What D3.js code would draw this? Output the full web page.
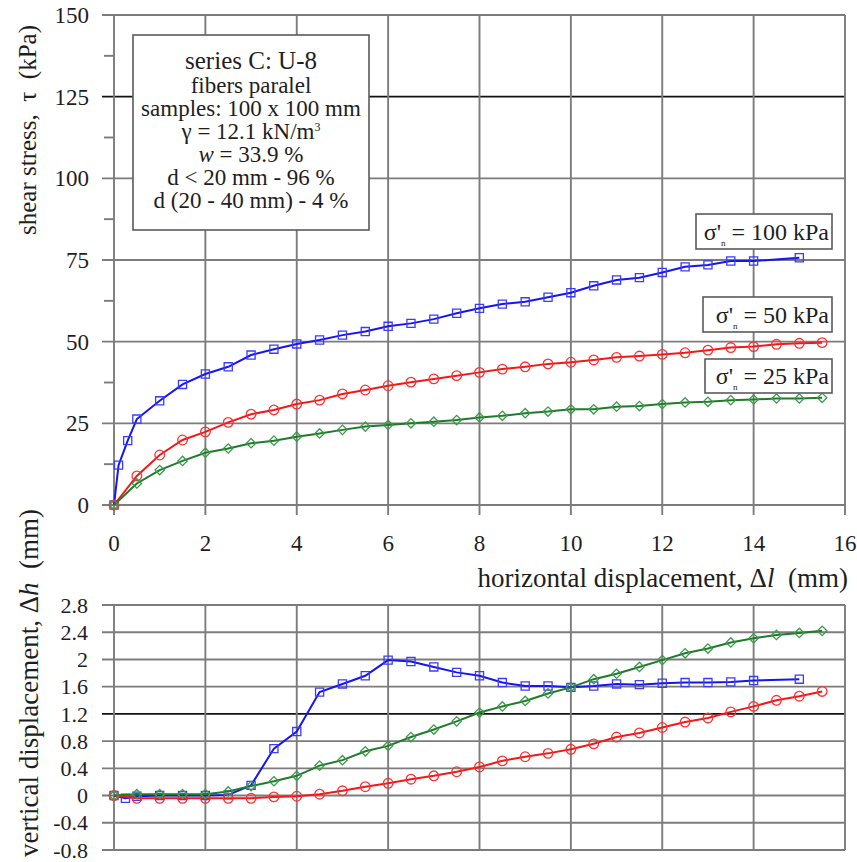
<!DOCTYPE html>
<head>
<meta charset="utf-8">
<script src="https://d3js.org/d3.v7.min.js"></script>
<style>
  body { margin: 0; background: #fff; }
  svg text { font-family: "Liberation Serif", "DejaVu Serif", serif; fill: #1e1e1e; }
  .grid { stroke: #7c7c7c; stroke-width: 1.9; }
  .grid-dark { stroke: #111; stroke-width: 1.8; }
  .box { fill: #fff; stroke: #5a5a5a; stroke-width: 1.6; }
</style>
</head>
<body>
<svg id="chart" width="857" height="862"></svg>
<script>
// x values (mm)
var xHalf = [0,0.5,1,1.5,2,2.5,3,3.5,4,4.5,5,5.5,6,6.5,7,7.5,8,8.5,9,9.5,10,10.5,11,11.5,12,12.5,13,13.5,14,14.5,15,15.5];
var xTauBlue = [0,0.1,0.3,0.5,1,1.5,2,2.5,3,3.5,4,4.5,5,5.5,6,6.5,7,7.5,8,8.5,9,9.5,10,10.5,11,11.5,12,12.5,13,13.5,14,15];
var xDhBlue = [0,0.25,0.5,1,1.5,2,2.5,3,3.5,4,4.5,5,5.5,6,6.5,7,7.5,8,8.5,9,9.5,10,10.5,11,11.5,12,12.5,13,13.5,14,15];

// shear stress (kPa)
var tauBlue  = [0,12.2,19.7,26.3,31.9,36.9,40.1,42.3,45.9,47.7,49.3,50.5,52.0,53.1,54.7,55.6,56.9,58.7,60.2,61.5,62.2,63.6,65.0,67.1,68.9,69.6,71.2,72.9,73.5,74.7,74.7,75.7];
var tauRed   = [0,8.9,15.3,19.9,22.4,25.3,27.8,29.1,30.9,32.1,34.0,35.2,36.5,37.6,38.6,39.6,40.6,41.6,42.3,43.2,43.7,44.4,45.2,45.6,46.1,46.6,47.4,48.2,48.5,49.2,49.5,49.7];
var tauGreen = [0,6.6,10.7,13.5,16.0,17.3,18.9,19.7,20.9,21.9,23.0,24.0,24.5,25.0,25.5,26.0,26.8,27.3,28.1,28.6,29.3,29.3,30.1,30.3,30.9,31.4,31.6,32.1,32.3,32.6,32.6,32.8];

// vertical displacement (mm)
var dhBlue  = [0,-0.04,-0.01,0,0,0,0.01,0.15,0.69,0.94,1.52,1.64,1.76,1.99,1.97,1.89,1.81,1.76,1.66,1.61,1.61,1.59,1.61,1.64,1.63,1.65,1.66,1.66,1.67,1.69,1.71];
var dhRed   = [0,-0.04,-0.04,-0.04,-0.04,-0.04,-0.04,-0.02,-0.01,0.02,0.07,0.13,0.18,0.24,0.29,0.35,0.42,0.51,0.57,0.62,0.68,0.76,0.86,0.92,1.00,1.08,1.14,1.23,1.31,1.40,1.46,1.53];
var dhGreen = [0,0.02,0.02,0.02,0.02,0.06,0.14,0.21,0.29,0.44,0.52,0.65,0.73,0.86,0.97,1.09,1.22,1.31,1.39,1.50,1.59,1.71,1.79,1.89,1.99,2.09,2.16,2.25,2.31,2.36,2.39,2.42];

var xTicks = [0,2,4,6,8,10,12,14,16];
var tauTicks = [0,25,50,75,100,125,150];
var tauMinor = [12.5,37.5,62.5,87.5,112.5,137.5];
var dhTicks = [-0.8,-0.4,0,0.4,0.8,1.2,1.6,2,2.4,2.8];

var svg = d3.select("#chart");

var x = d3.scaleLinear().domain([0, 16]).range([114, 845]);
var yTop = d3.scaleLinear().domain([0, 150]).range([505, 15]);
var yBot = d3.scaleLinear().domain([-0.8, 2.8]).range([850, 605]);

// ---- grid, top chart
var gTop = svg.append("g");
gTop.selectAll("line.h").data(tauTicks).enter().append("line")
    .attr("class", function(d) { return d == 125 ? "grid-dark" : "grid"; })
    .attr("x1", 102).attr("x2", x(16))
    .attr("y1", function(d) { return yTop(d); }).attr("y2", function(d) { return yTop(d); });
gTop.selectAll("line.m").data(tauMinor).enter().append("line")
    .attr("class", "grid")
    .attr("x1", 104).attr("x2", x(0))
    .attr("y1", function(d) { return yTop(d); }).attr("y2", function(d) { return yTop(d); });
gTop.selectAll("line.v").data(xTicks).enter().append("line")
    .attr("class", "grid")
    .attr("x1", function(d) { return x(d); }).attr("x2", function(d) { return x(d); })
    .attr("y1", yTop(150)).attr("y2", yTop(0) + 10);
gTop.selectAll("text.yl").data(tauTicks).enter().append("text")
    .attr("x", 89).attr("y", function(d) { return yTop(d); })
    .attr("dy", "0.35em").attr("text-anchor", "end")
    .style("font-size", "23px").text(function(d) { return d; });
gTop.selectAll("text.xl").data(xTicks).enter().append("text")
    .attr("x", function(d) { return x(d); }).attr("y", 543)
    .attr("dy", "0.35em").attr("text-anchor", "middle")
    .style("font-size", "23px").text(function(d) { return d; });

// ---- grid, bottom chart
var gBot = svg.append("g");
gBot.selectAll("line.h").data(dhTicks).enter().append("line")
    .attr("class", function(d) { return d == 1.2 ? "grid-dark" : "grid"; })
    .attr("x1", 102).attr("x2", x(16))
    .attr("y1", function(d) { return yBot(d); }).attr("y2", function(d) { return yBot(d); });
gBot.selectAll("line.v").data(xTicks).enter().append("line")
    .attr("class", "grid")
    .attr("x1", function(d) { return x(d); }).attr("x2", function(d) { return x(d); })
    .attr("y1", yBot(2.8)).attr("y2", yBot(-0.8));
gBot.selectAll("text.yl").data(dhTicks).enter().append("text")
    .attr("x", 88).attr("y", function(d) { return yBot(d); })
    .attr("dy", "0.35em").attr("text-anchor", "end")
    .style("font-size", "22px").text(function(d) { return d; });

// axis titles
svg.append("text")
    .attr("transform", "translate(36,130) rotate(-90)")
    .attr("text-anchor", "middle").style("font-size", "25px")
    .html('shear stress, &#160;τ &#160;(kPa)');
svg.append("text")
    .attr("transform", "translate(38,683) rotate(-90)")
    .attr("text-anchor", "middle").style("font-size", "27px")
    .html('vertical displacement, Δ<tspan font-style="italic">h</tspan> &#160;(mm)');
svg.append("text")
    .attr("x", 848).attr("y", 587).attr("text-anchor", "end")
    .style("font-size", "27px")
    .html('horizontal displacement, Δ<tspan font-style="italic">l</tspan> &#160;(mm)');

// ---- series
var diamond = d3.symbol().type(d3.symbolSquare).size(44);
var square = d3.symbol().type(d3.symbolSquare).size(66);

function drawSeries(g, xs, ys, yScale, color, lineColor, marker) {
    var pts = xs.map(function(d, i) { return [d, ys[i]]; });
    var line = d3.line()
        .x(function(d) { return x(d[0]); })
        .y(function(d) { return yScale(d[1]); });
    g.append("path").datum(pts)
        .attr("d", line).attr("fill", "none")
        .attr("stroke", lineColor).attr("stroke-width", 2);
    var m = g.selectAll(null).data(pts).enter();
    if (marker == "circle") {
        m.append("circle")
            .attr("cx", function(d) { return x(d[0]); })
            .attr("cy", function(d) { return yScale(d[1]); })
            .attr("r", 4.8).attr("fill", "none")
            .attr("stroke", color).attr("stroke-width", 1.3);
    } else {
        m.append("path")
            .attr("d", marker == "square" ? square : diamond)
            .attr("transform", function(d) {
                return "translate(" + x(d[0]) + "," + yScale(d[1]) + ")" + (marker == "diamond" ? " rotate(45)" : "");
            })
            .attr("fill", "none").attr("stroke", color).attr("stroke-width", 1.3);
    }
}

var blue = "#3b3bff", blueLine = "#1515f0";
var red = "#ff3030", redLine = "#f01818";
var green = "#3c9a4c", greenLine = "#1f7a2a";

drawSeries(svg.append("g"), xTauBlue, tauBlue, yTop, blue, blueLine, "square");
drawSeries(svg.append("g"), xHalf, tauRed, yTop, red, redLine, "circle");
drawSeries(svg.append("g"), xHalf, tauGreen, yTop, green, greenLine, "diamond");

drawSeries(svg.append("g"), xDhBlue, dhBlue, yBot, blue, blueLine, "square");
drawSeries(svg.append("g"), xHalf, dhRed, yBot, red, redLine, "circle");
drawSeries(svg.append("g"), xHalf, dhGreen, yBot, green, greenLine, "diamond");

// ---- info box
var info = svg.append("g");
info.append("rect").attr("class", "box")
    .attr("x", 133).attr("y", 35).attr("width", 236).attr("height", 195);
var infoLines = [
    {t: 'series C: U-8', y: 60, s: 25},
    {t: 'fibers paralel', y: 85, s: 23},
    {t: 'samples: 100 x 100 mm', y: 108, s: 23},
    {t: 'γ = 12.1 kN/m<tspan font-size="12" dy="-8">3</tspan>', y: 131, s: 23},
    {t: '<tspan font-style="italic">w</tspan> = 33.9 %', y: 154, s: 23},
    {t: 'd &lt; 20 mm - 96 %', y: 177, s: 23},
    {t: 'd (20 - 40 mm) - 4 %', y: 200, s: 23}
];
info.selectAll("text").data(infoLines).enter().append("text")
    .attr("x", 251).attr("y", function(d) { return d.y; })
    .attr("dy", "0.35em").attr("text-anchor", "middle")
    .style("font-size", function(d) { return d.s + "px"; })
    .html(function(d) { return d.t; });

// ---- series labels
var labels = [
    {v: "100", x0: 696, y0: 214, y1: 249},
    {v: "50", x0: 703, y0: 297, y1: 332},
    {v: "25", x0: 705, y0: 359, y1: 393}
];
var lg = svg.append("g").selectAll("g").data(labels).enter().append("g");
lg.append("rect").attr("class", "box")
    .attr("x", function(d) { return d.x0; }).attr("y", function(d) { return d.y0; })
    .attr("width", function(d) { return 832 - d.x0; })
    .attr("height", function(d) { return d.y1 - d.y0; });
lg.append("text")
    .attr("x", 829).attr("y", function(d) { return (d.y0 + d.y1) / 2; })
    .attr("dy", "0.35em").attr("text-anchor", "end")
    .style("font-size", "24px")
    .html(function(d) { return 'σ\'<tspan font-size="9" dy="6">n</tspan><tspan dy="-6"> = ' + d.v + ' kPa</tspan>'; });
</script>
</body>
